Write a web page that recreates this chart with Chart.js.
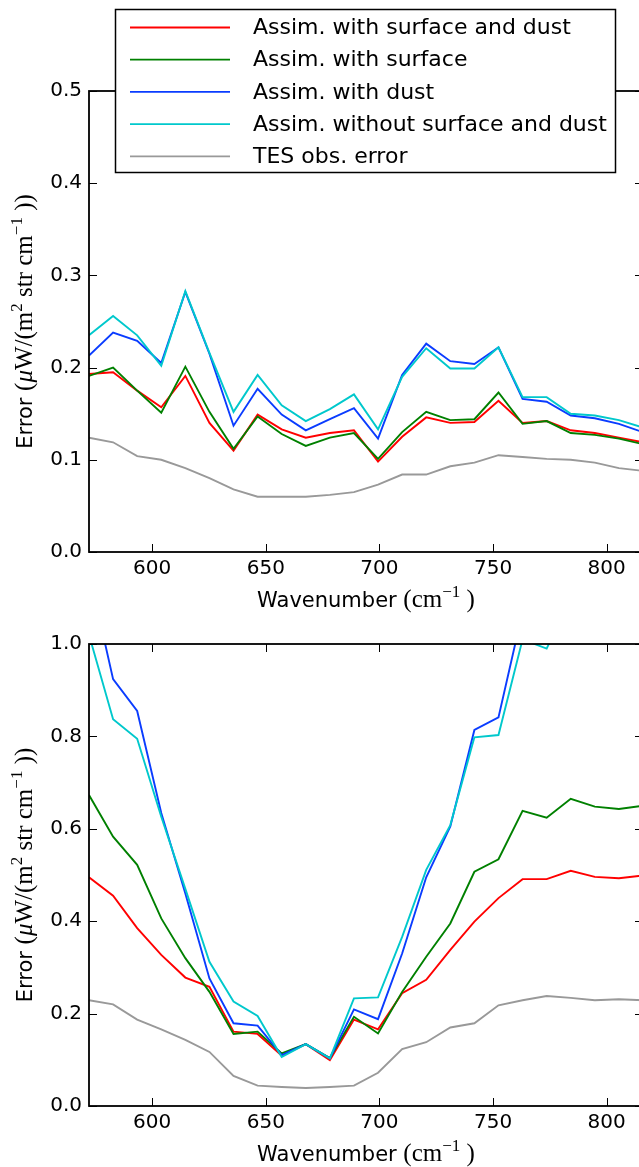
<!DOCTYPE html>
<html lang="en">
<head>
  <meta charset="UTF-8">
  <title>Assimilation error vs wavenumber</title>
  <script src="https://cdn.jsdelivr.net/npm/chart.js"></script>
  <style>
    html, body { margin: 0; padding: 0; background: #fff; overflow: hidden; }
    canvas { position: absolute; left: 0; }
    #topPanel { top: 0; }
    #bottomPanel { top: 620px; }
  </style>
</head>
<body>
  <canvas id="topPanel" width="650" height="620"></canvas>
  <canvas id="bottomPanel" width="650" height="547"></canvas>

  <script>
    // spectral channels (cm^-1)
    const wavenumber = [572.2, 582.8, 593.4, 604.0, 614.6, 625.2, 635.8, 646.4, 657.0, 667.6, 678.2, 688.8,
                        699.4, 710.0, 720.6, 731.2, 741.8, 752.4, 763.0, 773.6, 784.2, 794.8, 805.4, 816.0];
    const xTicks = [600, 650, 700, 750, 800];

    const seriesNames = ['Assim. with surface and dust', 'Assim. with surface', 'Assim. with dust',
                         'Assim. without surface and dust', 'TES obs. error'];
    const seriesColors = ['#ff0000', '#008000', '#0a3cff', '#00c8cc', '#999999'];

    // upper panel
    const topSurfDust = [0.193, 0.195, 0.175, 0.157, 0.191, 0.140, 0.110, 0.149, 0.133, 0.124, 0.129, 0.132,
                         0.098, 0.125, 0.146, 0.140, 0.141, 0.164, 0.140, 0.142, 0.132, 0.129, 0.124, 0.119];
    const topSurf     = [0.191, 0.200, 0.175, 0.151, 0.201, 0.152, 0.112, 0.147, 0.128, 0.115, 0.124, 0.129,
                         0.101, 0.130, 0.152, 0.143, 0.144, 0.173, 0.139, 0.142, 0.129, 0.127, 0.123, 0.117];
    const topDust     = [0.213, 0.238, 0.229, 0.205, 0.282, 0.215, 0.137, 0.177, 0.149, 0.132, 0.144, 0.156,
                         0.123, 0.192, 0.226, 0.207, 0.204, 0.222, 0.166, 0.163, 0.148, 0.145, 0.139, 0.130];
    const topNone     = [0.235, 0.256, 0.235, 0.202, 0.283, 0.216, 0.152, 0.192, 0.159, 0.142, 0.155, 0.171,
                         0.133, 0.190, 0.221, 0.199, 0.199, 0.222, 0.168, 0.168, 0.150, 0.148, 0.143, 0.135];
    const topObsErr   = [0.124, 0.119, 0.104, 0.100, 0.091, 0.080, 0.068, 0.060, 0.060, 0.060, 0.062, 0.065,
                         0.073, 0.084, 0.084, 0.093, 0.097, 0.105, 0.103, 0.101, 0.100, 0.097, 0.091, 0.088];

    // lower panel
    const botSurfDust = [0.495, 0.455, 0.385, 0.327, 0.278, 0.258, 0.161, 0.156, 0.109, 0.134, 0.099, 0.187,
                         0.166, 0.244, 0.273, 0.338, 0.399, 0.450, 0.491, 0.491, 0.509, 0.496, 0.493, 0.499];
    const botSurf     = [0.673, 0.583, 0.522, 0.406, 0.320, 0.247, 0.156, 0.161, 0.114, 0.134, 0.104, 0.193,
                         0.157, 0.247, 0.323, 0.395, 0.507, 0.534, 0.639, 0.624, 0.665, 0.648, 0.643, 0.650];
    const botDust     = [1.155, 0.924, 0.855, 0.634, 0.460, 0.276, 0.179, 0.174, 0.110, 0.134, 0.103, 0.209,
                         0.188, 0.330, 0.495, 0.605, 0.814, 0.841, 1.070, 1.200, 1.250, 1.300, 1.300, 1.300];
    const botNone     = [1.020, 0.837, 0.795, 0.626, 0.470, 0.312, 0.226, 0.195, 0.106, 0.134, 0.103, 0.233,
                         0.235, 0.366, 0.511, 0.608, 0.798, 0.803, 1.010, 0.990, 1.100, 1.150, 1.200, 1.200];
    const botObsErr   = [0.229, 0.220, 0.187, 0.166, 0.143, 0.117, 0.065, 0.044, 0.041, 0.039, 0.041, 0.044,
                         0.072, 0.123, 0.138, 0.170, 0.179, 0.218, 0.229, 0.238, 0.234, 0.229, 0.231, 0.229];

    const SANS = '"DejaVu Sans"';
    const SERIF = '"Liberation Serif"';

    // sans text followed by math-style serif pieces, sup pieces raised and smaller
    const xTitle = [
      { t: 'Wavenumber ', f: '21px ' + SANS },
      { t: '(cm', f: '25px ' + SERIF },
      { t: '\u22121', f: '17px ' + SERIF, rise: 10 },
      { t: ' )', f: '25px ' + SERIF }
    ];
    const yTitle = [
      { t: 'Error ', f: '21px ' + SANS },
      { t: '(', f: '25px ' + SERIF },
      { t: '\u03bc', f: 'italic 25px ' + SERIF },
      { t: 'W/(m', f: '25px ' + SERIF },
      { t: '2', f: '17px ' + SERIF, rise: 10 },
      { t: ' str cm', f: '25px ' + SERIF },
      { t: '\u22121', f: '17px ' + SERIF, rise: 10 },
      { t: ' ))', f: '25px ' + SERIF }
    ];

    function drawRich(ctx, parts, cx, baseline) {
      let total = 0;
      parts.forEach(p => { ctx.font = p.f; p.w = ctx.measureText(p.t).width; total += p.w; });
      let x = cx - total / 2;
      ctx.textAlign = 'left';
      ctx.textBaseline = 'alphabetic';
      ctx.fillStyle = '#000';
      parts.forEach(p => {
        ctx.font = p.f;
        ctx.fillText(p.t, x, baseline - (p.rise || 0));
        x += p.w;
      });
    }

    // matplotlib-like frame with inward ticks on all four sides
    const framePlugin = {
      id: 'frame',
      afterDatasetsDraw(chart) {
        const { ctx, chartArea: a, scales } = chart;
        ctx.save();
        ctx.strokeStyle = '#000';
        ctx.lineWidth = 1;
        ctx.beginPath();
        xTicks.forEach(v => {
          const px = Math.round(scales.x.getPixelForValue(v)) + 0.5;
          ctx.moveTo(px, a.bottom); ctx.lineTo(px, a.bottom - 8);
          ctx.moveTo(px, a.top); ctx.lineTo(px, a.top + 8);
        });
        scales.y.ticks.forEach(t => {
          const py = Math.round(scales.y.getPixelForValue(t.value)) + 0.5;
          ctx.moveTo(a.left, py); ctx.lineTo(a.left + 8, py);
          ctx.moveTo(a.right, py); ctx.lineTo(a.right - 8, py);
        });
        ctx.stroke();
        ctx.lineWidth = 1.8;
        ctx.strokeRect(a.left, a.top, a.right - a.left, a.bottom - a.top);
        ctx.restore();
      },
      afterDraw(chart) {
        const { ctx, chartArea: a } = chart;
        ctx.save();
        drawRich(ctx, xTitle, (a.left + a.right) / 2, a.bottom + 55);
        ctx.translate(32, (a.top + a.bottom) / 2);
        ctx.rotate(-Math.PI / 2);
        drawRich(ctx, yTitle, 0, 0);
        ctx.restore();
      }
    };

    // boxed legend overlapping the top of the upper panel
    const legendPlugin = {
      id: 'boxLegend',
      afterDraw(chart) {
        const ctx = chart.ctx;
        ctx.save();
        ctx.fillStyle = '#fff';
        ctx.fillRect(115, 9, 501, 164);
        ctx.strokeStyle = '#000';
        ctx.lineWidth = 1.5;
        ctx.strokeRect(115.5, 9.5, 500, 163);
        ctx.font = '22px ' + SANS;
        ctx.textAlign = 'left';
        ctx.textBaseline = 'middle';
        seriesNames.forEach((name, i) => {
          const y = 27.5 + i * 32.2;
          ctx.strokeStyle = seriesColors[i];
          ctx.lineWidth = 1.8;
          ctx.beginPath();
          ctx.moveTo(130, y); ctx.lineTo(230, y);
          ctx.stroke();
          ctx.fillStyle = '#000';
          ctx.fillText(name, 253, y + 1);
        });
        ctx.restore();
      }
    };

    function makePanel(id, series, yMax, yStep, padTop, xAxisHeight, extra) {
      return new Chart(document.getElementById(id), {
        type: 'line',
        data: {
          datasets: series.map((s, i) => ({
            label: seriesNames[i],
            data: wavenumber.map((w, k) => ({ x: w, y: s[k] })),
            borderColor: seriesColors[i],
            borderWidth: 1.9,
            pointRadius: 0,
            tension: 0,
            clip: 0,
            order: series.length - i
          }))
        },
        options: {
          responsive: false,
          animation: false,
          layout: { padding: { top: padTop, right: 7, left: 0, bottom: 0 } },
          plugins: { legend: { display: false }, tooltip: { enabled: false } },
          scales: {
            x: {
              type: 'linear',
              min: 572.2,
              max: 816,
              afterBuildTicks: sc => { sc.ticks = xTicks.map(v => ({ value: v })); },
              afterFit: sc => { sc.height = xAxisHeight; },
              grid: { display: false, drawTicks: false },
              border: { display: false },
              ticks: { padding: 5, color: '#000', font: { family: SANS, size: 20 }, maxRotation: 0, autoSkip: false }
            },
            y: {
              min: 0,
              max: yMax,
              afterFit: sc => { sc.width = 89; },
              grid: { display: false, drawTicks: false },
              border: { display: false },
              ticks: {
                stepSize: yStep,
                padding: 7,
                color: '#000',
                font: { family: SANS, size: 20 },
                callback: v => v.toFixed(1)
              }
            }
          }
        },
        plugins: extra ? [framePlugin, extra] : [framePlugin]
      });
    }

    makePanel('topPanel', [topSurfDust, topSurf, topDust, topNone, topObsErr], 0.5, 0.1, 91, 68, legendPlugin);
    makePanel('bottomPanel', [botSurfDust, botSurf, botDust, botNone, botObsErr], 1.0, 0.2, 24, 61);
  </script>
</body>
</html>
